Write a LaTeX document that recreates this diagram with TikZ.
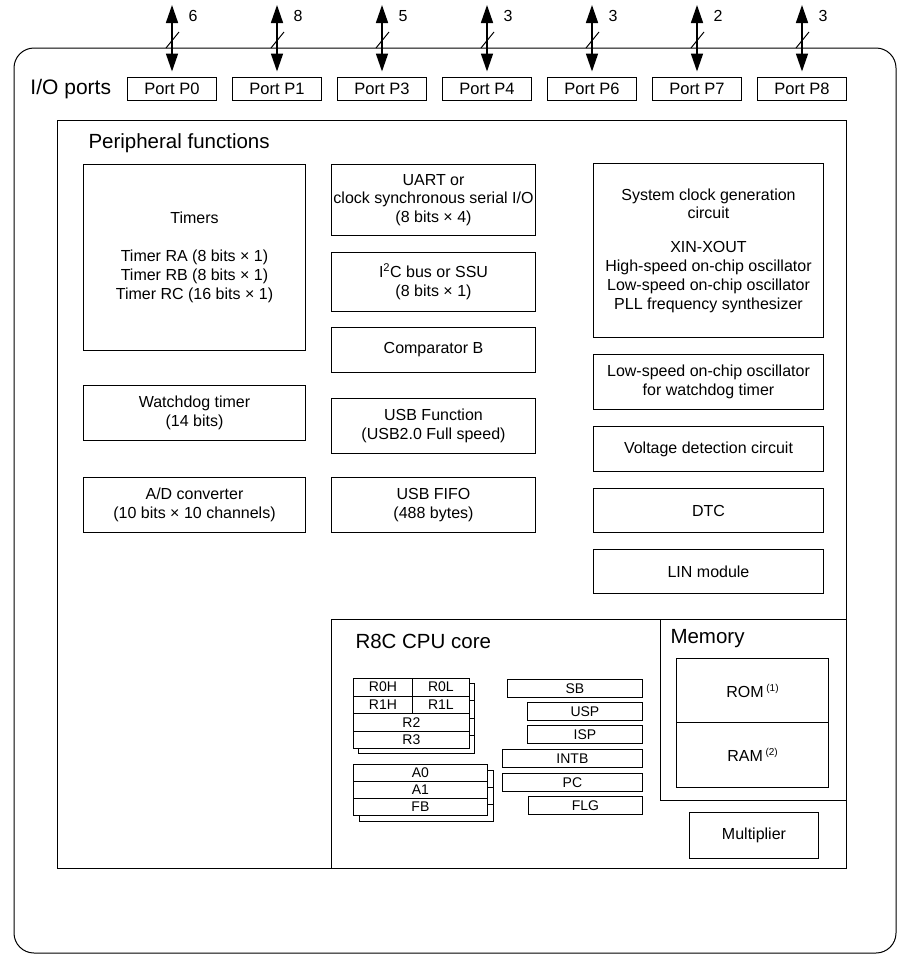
\documentclass[tikz,border=0pt]{standalone}
\usepackage{fontspec}
\setmainfont{Liberation Sans}
\usetikzlibrary{arrows.meta}

\tikzset{
  box/.style={draw, align=center, inner sep=0pt, anchor=north west, font=\fontsize{16}{18.8}\selectfont},
  port/.style={draw, inner sep=0pt, minimum width=89pt, minimum height=23pt, font=\fontsize{16.5}{19}\selectfont},
  bus/.style={line width=1.6pt, {Triangle[width=12pt,length=18pt]}-{Triangle[width=12pt,length=18pt]}, shorten >=5pt},
  width/.style={line width=1pt},
  num/.style={inner sep=0pt, font=\fontsize{16}{19}\selectfont},
  title/.style={anchor=west, inner sep=0pt, font=\fontsize{20.5}{24}\selectfont},
  reg/.style={draw, fill=white, inner sep=0pt, anchor=north west, font=\fontsize{14}{15}\selectfont, line width=0.8pt},
}

\begin{document}
\begin{tikzpicture}[x=1pt, y=-1pt, line width=1pt]
    \useasboundingbox (0,0) rectangle (907,967);

    % outer frame
    \draw[rounded corners=20pt] (14,48) rectangle (896,953);

    % I/O ports
    \node[title, font=\fontsize{21}{24}\selectfont] (io) at (30,89) {I/O ports};
    \node[port] (p0) at (172,88.5) {Port P0};
    \node[port] (p1) at (277,88.5) {Port P1};
    \node[port] (p3) at (382,88.5) {Port P3};
    \node[port] (p4) at (487,88.5) {Port P4};
    \node[port] (p6) at (592,88.5) {Port P6};
    \node[port] (p7) at (697,88.5) {Port P7};
    \node[port] (p8) at (802,88.5) {Port P8};

    \coordinate (t0) at (172,5);
    \coordinate (t1) at (277,5);
    \coordinate (t3) at (382,5);
    \coordinate (t4) at (487,5);
    \coordinate (t6) at (592,5);
    \coordinate (t7) at (697,5);
    \coordinate (t8) at (802,5);

    \draw[bus] (t0) -- (p0);
    \draw[bus] (t1) -- (p1);
    \draw[bus] (t3) -- (p3);
    \draw[bus] (t4) -- (p4);
    \draw[bus] (t6) -- (p6);
    \draw[bus] (t7) -- (p7);
    \draw[bus] (t8) -- (p8);

    \draw[width] (166,48) -- (179,32);
    \draw[width] (271,48) -- (284,32);
    \draw[width] (376,48) -- (389,32);
    \draw[width] (481,48) -- (494,32);
    \draw[width] (586,48) -- (599,32);
    \draw[width] (691,48) -- (704,32);
    \draw[width] (796,48) -- (809,32);

    \node[num] (n0) at (193,16) {6};
    \node[num] (n1) at (298,16) {8};
    \node[num] (n3) at (403,16) {5};
    \node[num] (n4) at (508,16) {3};
    \node[num] (n6) at (613,16) {3};
    \node[num] (n7) at (718,16) {2};
    \node[num] (n8) at (823,16) {3};

    % peripheral functions
    \draw (57,120) rectangle (846,868);
    \node[title] (pf) at (88,143) {Peripheral functions};

    \node[box, minimum width=222pt, minimum height=186pt] (tmr) at (83,164)
        {Timers\\[19pt]Timer RA (8 bits × 1)\\Timer RB (8 bits × 1)\\Timer RC (16 bits × 1)};
    \node[box, minimum width=222pt, minimum height=55pt] (wdt) at (83,385) {Watchdog timer\\(14 bits)};
    \node[box, minimum width=222pt, minimum height=55pt] (adc) at (83,477) {A/D converter\\(10 bits × 10 channels)};

    \node[box, minimum width=204pt, minimum height=71pt] (uart) at (331,164)
        {UART or\\clock synchronous serial I/O\\(8 bits × 4)};
    \node[box, minimum width=204pt, minimum height=59pt] (iic) at (331,252) {I\textsuperscript{2}C bus or SSU\\(8 bits × 1)};
    \node[box, minimum width=204pt, minimum height=45pt] (cmp) at (331,327) {Comparator B};
    \node[box, minimum width=204pt, minimum height=55pt] (usb) at (331,398) {USB Function\\(USB2.0 Full speed)};
    \node[box, minimum width=204pt, minimum height=55pt] (fifo) at (331,477) {USB FIFO\\(488 bytes)};

    \node[box, minimum width=230pt, minimum height=174pt] (clk) at (593,163)
        {System clock generation\\circuit\\[15pt]XIN-XOUT\\High-speed on-chip oscillator\\Low-speed on-chip oscillator\\PLL frequency synthesizer};
    \node[box, minimum width=230pt, minimum height=55pt] (loco) at (593,354) {Low-speed on-chip oscillator\\for watchdog timer};
    \node[box, minimum width=230pt, minimum height=45pt] (vdet) at (593,426) {Voltage detection circuit};
    \node[box, minimum width=230pt, minimum height=44pt] (dtc) at (593,488) {DTC};
    \node[box, minimum width=230pt, minimum height=44pt] (lin) at (593,549) {LIN module};

    % CPU core and memory
    \draw (331,868) -- (331,619) -- (846,619);
    \draw (660,619) -- (660,800) -- (846,800);
    \node[title] (cpu) at (355,641) {R8C CPU core};
    \node[title] (mem) at (670,639) {Memory};

    \node[box, minimum width=152pt, minimum height=64pt] (rom) at (676,658)
        {ROM\,\raisebox{6pt}{\fontsize{10}{10}\selectfont (1)}};
    \node[box, minimum width=152pt, minimum height=65pt] (ram) at (676,722)
        {RAM\,\raisebox{6pt}{\fontsize{10}{10}\selectfont (2)}};
    \node[box, minimum width=129pt, minimum height=46pt] (mul) at (689,812) {Multiplier};

    % register banks
    \draw[line width=0.8pt, fill=white] (358,683) rectangle (474,753);
    \draw[line width=0.8pt] (358,700.5) -- (474,700.5);
    \draw[line width=0.8pt] (358,718) -- (474,718);
    \draw[line width=0.8pt] (358,735.5) -- (474,735.5);
    \node[reg, minimum width=59pt, minimum height=17.5pt] (r0h) at (353,678) {R0H};
    \node[reg, minimum width=57pt, minimum height=17.5pt] (r0l) at (412,678) {R0L};
    \node[reg, minimum width=59pt, minimum height=17.5pt] (r1h) at (353,695.5) {R1H};
    \node[reg, minimum width=57pt, minimum height=17.5pt] (r1l) at (412,695.5) {R1L};
    \node[reg, minimum width=116pt, minimum height=17.5pt] (r2) at (353,713) {R2};
    \node[reg, minimum width=116pt, minimum height=17.5pt] (r3) at (353,730.5) {R3};

    \draw[line width=0.8pt, fill=white] (359,770) rectangle (493,821);
    \draw[line width=0.8pt] (359,787) -- (493,787);
    \draw[line width=0.8pt] (359,804) -- (493,804);
    \node[reg, minimum width=134pt, minimum height=17pt] (a0) at (353,764) {A0};
    \node[reg, minimum width=134pt, minimum height=17pt] (a1) at (353,781) {A1};
    \node[reg, minimum width=134pt, minimum height=17pt] (fb) at (353,798) {FB};

    \node[reg, minimum width=135pt, minimum height=18pt] (sb) at (507,679) {SB};
    \node[reg, minimum width=115pt, minimum height=18pt] (usp) at (527,702) {USP};
    \node[reg, minimum width=115pt, minimum height=18pt] (isp) at (527,725) {ISP};
    \node[reg, minimum width=140pt, minimum height=18pt] (intb) at (502,749) {INTB};
    \node[reg, minimum width=140pt, minimum height=18pt] (pc) at (502,773) {PC};
    \node[reg, minimum width=114pt, minimum height=18pt] (flg) at (528,796) {FLG};
\end{tikzpicture}
\end{document}
